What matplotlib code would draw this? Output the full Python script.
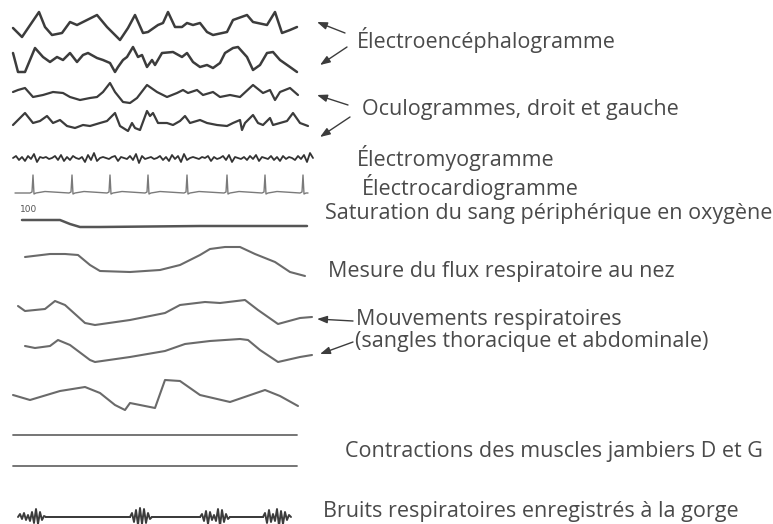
import numpy as np
import matplotlib.pyplot as plt

# traces: time (px along the strip) and amplitude (px, up = positive)
eeg1_t = [13, 22, 39, 45, 52, 62, 70, 77, 97, 107, 120, 128, 135, 143, 148, 158, 163, 168,
          175, 182, 187, 193, 200, 207, 213, 227, 233, 247, 253, 267, 275, 282, 290, 297]
eeg1_v = [-3, -12, 13, -2, -10, -8, 3, 0, 10, -2, -15, -3, 10, -8, -7, 0, 2, 13,
          -2, -2, 2, 0, 2, -7, -10, -7, 5, 10, 3, 0, 13, -8, -5, -2]

eeg2_t = [13, 18, 25, 35, 43, 50, 57, 63, 70, 77, 83, 88, 97, 103, 110, 115, 118, 123, 127,
          133, 138, 142, 147, 152, 155, 162, 173, 182, 187, 193, 200, 207, 213, 220, 225,
          233, 238, 247, 253, 260, 267, 273, 280, 290, 297]
eeg2_v = [7, -12, -12, 12, 3, -2, 3, 0, 7, -2, 5, 7, 2, 0, -3, -12, -7, 0, 3,
          13, 3, 5, -7, 0, -5, 7, 8, 3, 7, -2, -7, -5, -8, -3, 7,
          12, 13, 3, -10, -5, 7, 8, 0, -7, -12]

eog1_t = [13, 18, 25, 33, 43, 53, 63, 70, 80, 90, 97, 103, 110, 115, 123, 130, 137, 147,
          157, 167, 177, 183, 188, 197, 203, 213, 220, 230, 240, 253, 263, 270, 275, 280, 290, 298]
eog1_v = [3, 5, 7, -2, 0, 3, 2, -2, -5, -3, -2, 3, 12, 3, -7, -8, -3, 10,
          3, -2, 2, 5, 2, 5, 0, 3, -2, 0, -2, 10, 2, 5, -5, 3, 7, 0]

eog2_t = [13, 20, 25, 33, 40, 47, 53, 60, 67, 75, 83, 90, 100, 107, 115, 120, 128, 132, 135,
          140, 147, 150, 153, 158, 167, 173, 180, 185, 190, 200, 207, 217, 227, 233, 240, 242,
          245, 253, 258, 263, 270, 273, 280, 287, 293, 300, 308]
eog2_v = [-2, 5, 10, 0, 2, 7, 0, 3, -3, -5, -2, -3, 0, 2, 10, -3, -8, 0, -5,
          -7, 12, 7, 10, 0, 0, -2, 2, 7, 0, 3, 0, -2, -3, 0, 3, -7,
          0, 8, 0, -2, 5, -2, 0, 2, 10, 0, -3]

emg_v = [0, 2, -2, 1, -3, 2, -1, 4, -4, 1, 0, 1, -1, 0, 2, -2, 3, -3, 1, -2, 2, 0, -1, 1, -4,
         3, -2, 5, -3, 0, 1, 0, -1, 1, 2, -3, 1, 0, -1, 2, -2, 4, -5, 2, -1, 0, 1, -1, 0, 2,
         -2, 1, -3, 3, -1, 2, -4, 4, -2, 0, 1, 0, -1, 1, 0, 2, -3, 1, -1, 0, 2, -2, 3, -4, 1,
         0, -1, 1, -2, 2, -1, 3, -3, 1, 0, -1, 2, -2, 1, -3, 2, -1, 1, 0, -2, 2, -1, 3, -4, 5, 0]

ecg_t = [15, 30, 32, 33, 34, 36, 45, 69, 71, 72, 73, 75, 84, 107, 109, 110, 111, 113, 122,
         145, 147, 148, 149, 151, 160, 184, 186, 187, 188, 190, 199, 224, 226, 227, 228, 230, 239,
         262, 264, 265, 266, 268, 277, 300, 302, 303, 304, 306, 308]
ecg_v = [0, 0, 1, 18, -1, 0, 1.5, 0, 1, 18, -1, 0, 1.5, 0, 1, 18, -1, 0, 1.5,
         0, 1, 18, -1, 0, 1.5, 0, 1, 18, -1, 0, 1.5, 0, 1, 18, -1, 0, 1.5,
         0, 1, 18, -1, 0, 1.5, 0, 1, 18, -1, 0, 0]

spo2_t = [22, 60, 70, 80, 100, 200, 307]
spo2_v = [0, 0, -4, -7, -7, -6, -6]

flow_t = [25, 50, 65, 78, 90, 100, 130, 160, 180, 200, 210, 225, 240, 255, 275, 290, 305]
flow_v = [0, 3, 3, 2, -8, -14, -15, -13, -8, 2, 8, 10, 10, 3, -5, -15, -19]

thor_t = [18, 25, 45, 55, 65, 85, 95, 130, 165, 180, 205, 220, 245, 258, 278, 300, 312]
thor_v = [4, -1, 1, 9, 5, -13, -15, -10, -3, 5, 8, 7, 10, 0, -14, -8, -7]

abdo_t = [25, 35, 50, 58, 70, 90, 95, 130, 165, 185, 210, 240, 248, 260, 278, 300, 312]
abdo_v = [4, 2, 4, 10, 5, -10, -12, -7, -1, 6, 9, 11, 10, 0, -12, -7, -5]

other_t = [13, 30, 60, 85, 100, 115, 125, 130, 140, 155, 165, 180, 200, 230, 265, 280, 298]
other_v = [0, -5, 4, 8, 2, -10, -15, -8, -10, -13, 15, 14, 0, -7, 5, -1, -11]

leg_t = [13, 297]
leg_v = [0, 0]

snore_t = [18, 20, 22, 24, 26, 28, 30, 32, 34, 36, 38, 40, 42, 44, 46,
           130, 132, 134, 136, 138, 140, 142, 144, 146, 148, 150, 152,
           200, 202, 204, 206, 208, 210, 212, 214, 216, 218, 220, 222, 224, 226, 228, 230,
           263, 265, 267, 269, 271, 273, 275, 277, 279, 281, 283, 285, 287, 289, 291]
snore_v = [0, 3, -2, 4, -3, 2, -4, 5, -6, 8, -7, 5, -3, 1, 0,
           0, 4, -5, 7, -8, 9, -7, 8, -6, 4, -2, 0,
           0, 3, -4, 6, -7, 5, -3, 2, -4, 8, -9, 7, -5, 3, -2, 0,
           0, 4, -6, 7, -5, 3, -4, 8, -9, 6, -7, 5, -3, 2, 0]

labels = ["Électroencéphalogramme", "Oculogrammes, droit et gauche", "Électromyogramme",
          "Électrocardiogramme", "Saturation du sang périphérique en oxygène",
          "Mesure du flux respiratoire au nez", "Mouvements respiratoires",
          "(sangles thoracique et abdominale)", "Contractions des muscles jambiers D et G",
          "Bruits respiratoires enregistrés à la gorge"]

fig = plt.figure(figsize=(7.73, 5.24), dpi=100)
ax = fig.add_axes([0, 0, 1, 1])
ax.set_xlim(0, 773)
ax.set_ylim(524, 0)
ax.axis('off')

def trace(t, v, base, color='#4a4a4a', lw=1.6):
    ax.plot(t, base - np.asarray(v, dtype=float), color=color, lw=lw,
            solid_joinstyle='round', solid_capstyle='round')

trace(eeg1_t, eeg1_v, 25, '#3c3c3c', 1.8)
trace(eeg2_t, eeg2_v, 60, '#3c3c3c', 1.8)
trace(eog1_t, eog1_v, 95, '#3c3c3c', 1.6)
trace(eog2_t, eog2_v, 123, '#3c3c3c', 1.6)
trace(np.linspace(13, 313, len(emg_v)), emg_v, 158, '#333333', 1.3)
trace(ecg_t, ecg_v, 193, '#7a7a7a', 1.0)
trace(spo2_t, spo2_v, 220, '#555555', 1.8)
trace(flow_t, flow_v, 257, '#6a6a6a', 1.5)
trace(thor_t, thor_v, 310, '#6a6a6a', 1.5)
trace(abdo_t, abdo_v, 350, '#6a6a6a', 1.5)
trace(other_t, other_v, 395, '#6a6a6a', 1.5)
trace(leg_t, leg_v, 435, '#6a6a6a', 1.3)
trace(leg_t, leg_v, 466, '#6a6a6a', 1.3)
trace(snore_t + [291], snore_v + [0], 517, '#3c3c3c', 1.4)
ax.plot([46, 130], [517, 517], color='#3c3c3c', lw=1.3)
ax.plot([152, 200], [517, 517], color='#3c3c3c', lw=1.3)
ax.plot([230, 263], [517, 517], color='#3c3c3c', lw=1.3)

ax.text(20, 209, "100", fontsize=6.5, color='#555555', va='center', family='DejaVu Sans')

tx = dict(fontsize=15.5, color='#4a4a4a', va='center', family='Open Sans')
ax.text(357, 40, labels[0], **tx)
ax.text(362, 110, labels[1], **tx)
ax.text(357, 158, labels[2], **tx)
ax.text(362, 187, labels[3], **tx)
ax.text(325, 213, labels[4], **tx)
ax.text(328, 272, labels[5], **tx)
ax.text(356, 320, labels[6], **tx)
ax.text(355, 342, labels[7], **tx)
ax.text(345, 452, labels[8], **tx)
ax.text(323, 512, labels[9], **tx)

arrows = [((345, 33), (317, 22)), ((347, 47), (320, 65)),
          ((348, 105), (317, 95)), ((350, 117), (320, 137)),
          ((353, 321), (317, 319)), ((353, 342), (320, 354))]
for (x0, y0), (x1, y1) in arrows:
    ax.annotate("", xy=(x1, y1), xytext=(x0, y0),
                arrowprops=dict(arrowstyle='-|>,head_length=0.6,head_width=0.22',
                                color='#3c3c3c', lw=1.0, shrinkA=0, shrinkB=0))

fig.savefig('out.png', dpi=100)
